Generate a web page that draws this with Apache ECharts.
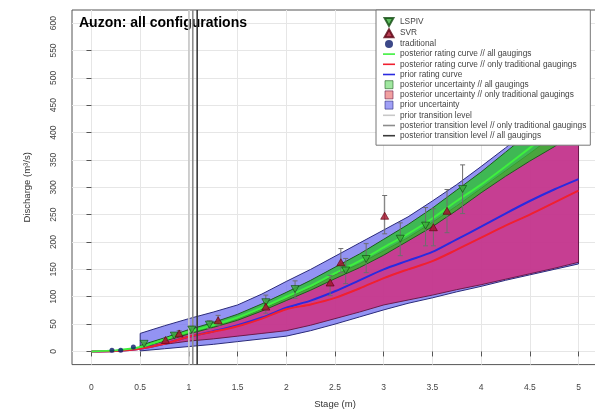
<!DOCTYPE html>
<html><head><meta charset="utf-8">
<script src="https://cdn.jsdelivr.net/npm/echarts@6/dist/echarts.min.js"></script>
<style>html,body{margin:0;padding:0;background:#fff}#c{width:595px;height:409px}</style>
</head><body><div id="c"></div>
<script>
// ---- data ----
const stages     = [0,0.25,0.5,0.75,1,1.25,1.5,1.75,2,2.25,2.5,2.75,3,3.25,3.5,3.75,4,4.25,4.5,4.75,5];
const curveAll   = [0,2,8,22,36,48,62,80,100,120,143,165,190,215,243,275,305,338,372,405,440];
const curveTrad  = [0,1,5,14,27,36,46,60,77,86,98,115,134,150,165,186,208,230,250,272,294];
const curvePrior = [0,1,5,14,27,37,48,62,80,93,110,130,150,166,182,205,228,252,275,296,315];

const bandX         = [0.5,0.75,1,1.25,1.5,1.75,2,2.25,2.5,2.75,3,3.25,3.5,3.75,4,4.25,4.5,4.75,5];
const bandAllLow    = [7,19,32,44,57,74,93,112,133,153,176,202,228,258,290,320,348,374,405];
const bandAllHigh   = [11,25,40,53,68,87,108,130,154,178,205,232,262,295,328,364,400,437,475];
const bandTradLow   = [8,13,19,23,28,33,38,48,60,72,85,94,103,113,122,132,142,152,163];
const bandTradHigh  = [10,21,34,46,60,77,97,117,140,160,184,208,236,266,298,330,362,395,430];
const bandPriorLow  = [1,5,9,13,18,23,28,38,50,63,76,88,98,109,119,130,140,150,160];
const bandPriorHigh = [33,47,60,72,85,105,128,150,174,198,222,246,275,305,338,372,408,445,485];

const lspivX  = [0.54,0.85,1.03,1.21,1.79,2.09,2.61,2.82,3.17,3.43,3.81];
const lspivQ  = [14,29,40,49,90,114,148,169,206,230,297];
const lspivLo = [12,25,34,42,77,97,124,144,175,193,252];
const lspivHi = [16,33,46,56,103,129,170,197,235,263,341];

const svrX  = [0.76,0.9,1.3,1.79,2.45,2.56,3.01,3.51,3.65];
const svrQ  = [21,33,57,82,126,163,248,227,257];
const svrLo = [18,28,48,70,102,144,215,193,217];
const svrHi = [24,38,66,94,139,188,285,261,296];

const tradX = [0.21,0.3,0.43];
const tradQ = [2,2,8];

const transitionNames  = ['prior transition level','posterior transition level // only traditional gaugings','posterior transition level // all gaugings'];
const transitionLevels = [1.0,1.04,1.085];
const transitionColors = ['#c8c8c8','#8c8c8c','#3a3a3a'];

const xTicks = [0,0.5,1,1.5,2,2.5,3,3.5,4,4.5,5];
const yTicks = [0,50,100,150,200,250,300,350,400,450,500,550,600];
const xMin = -0.2, xMax = 5.2, yMin = -24, yMax = 624;

// ---- helpers ----
const zip = (xs, ys) => xs.map((x, i) => [x, ys[i]]);
function bandSeries(name, low, high, fill, stroke, legendColor, z) {
  return {
    name, type: 'custom', z, clip: true,
    itemStyle: { color: legendColor, borderColor: stroke, borderWidth: 0.6 },
    encode: { x: 0, y: 1 },
    data: [[bandX[0], low[0]]],
    renderItem(params, api) {
      const pts = [];
      for (let i = 0; i < bandX.length; i++) pts.push(api.coord([bandX[i], high[i]]));
      for (let i = bandX.length - 1; i >= 0; i--) pts.push(api.coord([bandX[i], low[i]]));
      return { type: 'polygon', shape: { points: pts }, style: { fill, stroke, lineWidth: 1 } };
    }
  };
}
function errSeries(name, xs, lo, hi) {
  return {
    name, type: 'custom', z: 8, clip: true,
    encode: { x: 0, y: [1, 2] },
    data: xs.map((x, i) => [x, lo[i], hi[i]]),
    renderItem(params, api) {
      const x = api.value(0);
      const a = api.coord([x, api.value(1)]), b = api.coord([x, api.value(2)]);
      const st = { stroke: '#6e6e6e', lineWidth: 1 };
      return { type: 'group', children: [
        { type: 'line', shape: { x1: a[0], y1: a[1], x2: b[0], y2: b[1] }, style: st },
        { type: 'line', shape: { x1: a[0]-2.5, y1: a[1], x2: a[0]+2.5, y2: a[1] }, style: st },
        { type: 'line', shape: { x1: b[0]-2.5, y1: b[1], x2: b[0]+2.5, y2: b[1] }, style: st }
      ]};
    }
  };
}
const downTri = 'path://M0,0L10,0L5,9Z';
const upTri = 'path://M5,0L10,9L0,9Z';
const sq = 'path://M0,0H10V10H0Z';
const lineIcon = 'path://M0,0H12V1.6H0Z';

const FONT = '"Liberation Sans", Arial, sans-serif';
const chart = echarts.init(document.getElementById('c'), null, { renderer: 'canvas' });

const series = [
  bandSeries('prior uncertainty', bandPriorLow, bandPriorHigh, 'rgba(120,120,240,0.8)', '#2a2a7a', 'rgba(150,150,245,0.9)', 1),
  bandSeries('posterior uncertainty // only traditional gaugings', bandTradLow, bandTradHigh, 'rgba(222,22,100,0.68)', '#6a1a4a', 'rgba(240,150,150,0.9)', 2),
  bandSeries('posterior uncertainty // all gaugings', bandAllLow, bandAllHigh, 'rgba(40,195,40,0.78)', '#1e5a1e', 'rgba(150,228,150,0.9)', 3),
  { name: 'prior rating curve', type: 'line', z: 4, smooth: 0.3, symbol: 'none',
    lineStyle: { color: '#2a2ae0', width: 2 }, itemStyle: { color: '#2a2ae0' }, data: zip(stages, curvePrior) },
  { name: 'posterior rating curve // only traditional gaugings', type: 'line', z: 5, smooth: 0.3, symbol: 'none',
    lineStyle: { color: '#f02030', width: 2 }, itemStyle: { color: '#f02030' }, data: zip(stages, curveTrad) },
  { name: 'posterior rating curve // all gaugings', type: 'line', z: 6, smooth: 0.3, symbol: 'none',
    lineStyle: { color: '#3ef03e', width: 2 }, itemStyle: { color: '#3ef03e' }, data: zip(stages, curveAll) }
];
transitionNames.forEach((n, i) => series.push({
  name: n, type: 'line', z: 7, symbol: 'none', animation: false,
  lineStyle: { color: transitionColors[i], width: 1.6 }, itemStyle: { color: transitionColors[i] },
  data: [[transitionLevels[i], yMin], [transitionLevels[i], yMax]]
}));
series.push(errSeries('err-lspiv', lspivX, lspivLo, lspivHi));
series.push(errSeries('err-svr', svrX, svrLo, svrHi));
series.push({ name: 'LSPIV', type: 'scatter', z: 10, symbol: downTri, symbolSize: [8, 7],
  itemStyle: { color: '#3aad3a', borderColor: '#0f4a0f', borderWidth: 0.8 }, data: zip(lspivX, lspivQ) });
series.push({ name: 'SVR', type: 'scatter', z: 10, symbol: upTri, symbolSize: [8, 7],
  itemStyle: { color: '#a5102a', borderColor: '#5a0010', borderWidth: 0.8 }, data: zip(svrX, svrQ) });
series.push({ name: 'traditional', type: 'scatter', z: 10, symbol: 'circle', symbolSize: 5,
  itemStyle: { color: '#0b1a6a' }, data: zip(tradX, tradQ) });

chart.setOption({
  animation: false,
  textStyle: { fontFamily: FONT },
  title: { text: 'Auzon: all configurations', left: 74, top: 11,
    textStyle: { fontSize: 14, fontWeight: 'bold', color: '#000', fontFamily: FONT } },
  grid: { left: 72, top: 10, width: 526, height: 354.6, show: true, borderColor: '#555', borderWidth: 1,
    outerBoundsMode: 'none', containLabel: false },
  legend: {
    orient: 'vertical', left: 376, top: 10, padding: [7, 4, 5, 7],
    itemWidth: 12, itemHeight: 8, itemGap: 1.2,
    backgroundColor: '#fff', borderColor: '#777', borderWidth: 1, z: 20,
    textStyle: { fontSize: 8.3, color: '#444', lineHeight: 9, fontFamily: FONT },
    data: [
      { name: 'LSPIV', icon: downTri },
      { name: 'SVR', icon: upTri },
      { name: 'traditional', icon: 'circle' },
      { name: 'posterior rating curve // all gaugings', icon: lineIcon },
      { name: 'posterior rating curve // only traditional gaugings', icon: lineIcon },
      { name: 'prior rating curve', icon: lineIcon },
      { name: 'posterior uncertainty // all gaugings', icon: sq, itemStyle: { borderWidth: 0.6 } },
      { name: 'posterior uncertainty // only traditional gaugings', icon: sq, itemStyle: { borderWidth: 0.6 } },
      { name: 'prior uncertainty', icon: sq, itemStyle: { borderWidth: 0.6 } },
      { name: 'prior transition level', icon: lineIcon },
      { name: 'posterior transition level // only traditional gaugings', icon: lineIcon },
      { name: 'posterior transition level // all gaugings', icon: lineIcon }
    ]
  },
  xAxis: {
    type: 'value', min: xMin, max: xMax,
    name: 'Stage (m)', nameLocation: 'middle', nameGap: 35,
    nameTextStyle: { fontSize: 9.5, color: '#333', fontFamily: FONT },
    axisLine: { show: false },
    axisTick: { show: true, length: 5, customValues: xTicks, lineStyle: { color: '#555' } },
    axisLabel: { customValues: xTicks, fontSize: 8.5, color: '#444', margin: 19, fontFamily: FONT },
    splitLine: { show: true, lineStyle: { color: '#e6e6e6', width: 1 } }
  },
  yAxis: {
    type: 'value', min: yMin, max: yMax,
    name: 'Discharge (m³/s)', nameLocation: 'middle', nameGap: 40, nameRotate: 90,
    nameTextStyle: { fontSize: 9.5, color: '#333', fontFamily: FONT },
    axisLine: { show: false },
    axisTick: { show: true, length: 5, customValues: yTicks, lineStyle: { color: '#555' } },
    axisLabel: { customValues: yTicks, rotate: 90, fontSize: 8.5, color: '#444', margin: 14, fontFamily: FONT },
    splitLine: { show: true, lineStyle: { color: '#e6e6e6', width: 1 } }
  },
  series
});
</script></body></html>
